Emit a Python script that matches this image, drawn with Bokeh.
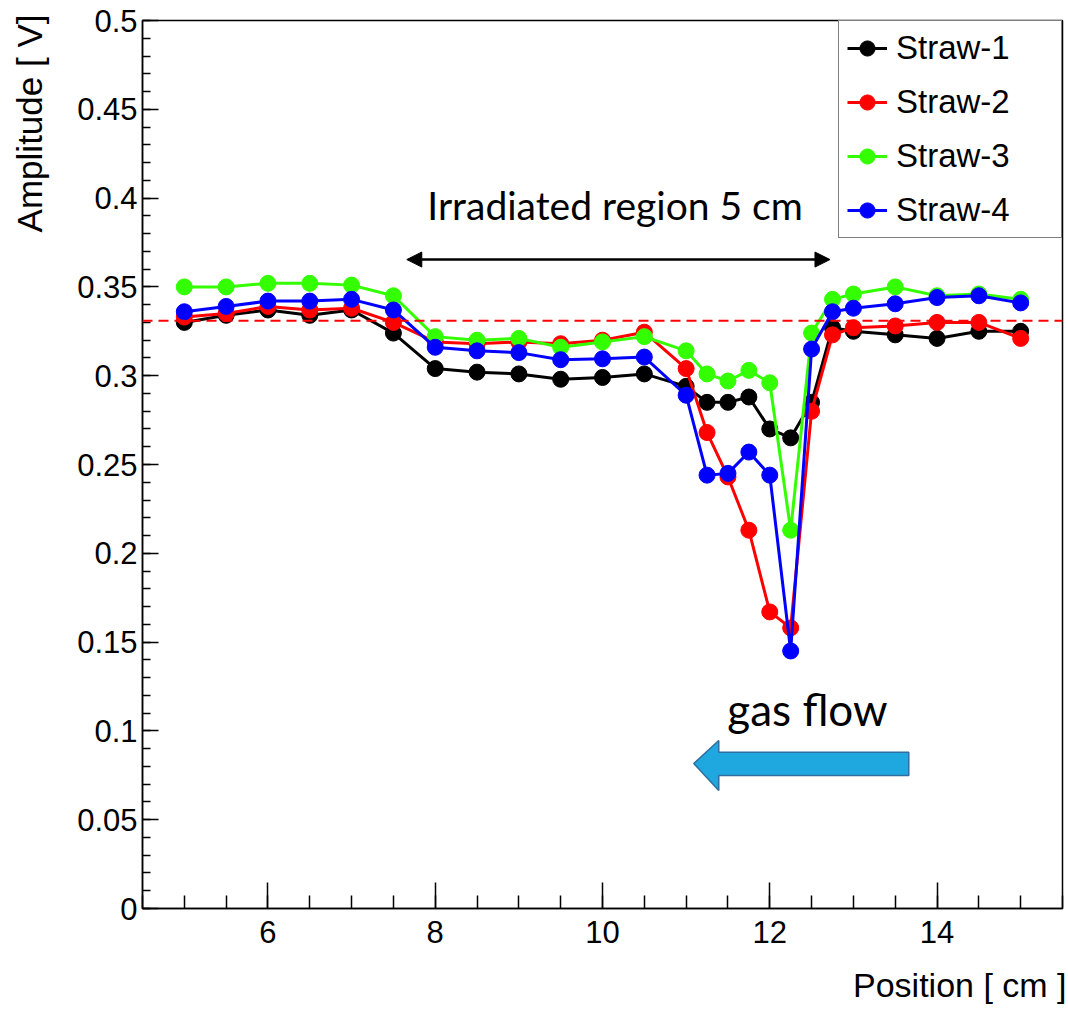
from bokeh.plotting import figure
from bokeh.models import (SingleIntervalTicker, CustomJSTickFormatter, Span, Label, Arrow,
                          NormalHead, Legend, LegendItem, ColumnDataSource, Title)
from bokeh.embed import file_html
from bokeh.resources import INLINE

# ---- data ----
positions = [5, 5.5, 6, 6.5, 7, 7.5, 8, 8.5, 9, 9.5, 10, 10.5, 11, 11.25, 11.5, 11.75,
             12, 12.25, 12.5, 12.75, 13, 13.5, 14, 14.5, 15]
straw1 = [0.330, 0.334, 0.337, 0.334, 0.337, 0.324, 0.304, 0.302, 0.301, 0.298, 0.299, 0.301,
          0.294, 0.285, 0.285, 0.288, 0.270, 0.265, 0.285, 0.327, 0.325, 0.323, 0.321, 0.325, 0.325]
straw2 = [0.333, 0.335, 0.339, 0.337, 0.338, 0.330, 0.319, 0.318, 0.319, 0.318, 0.320, 0.3245,
          0.304, 0.268, 0.243, 0.213, 0.167, 0.158, 0.280, 0.323, 0.327, 0.328, 0.330, 0.330, 0.321]
straw3 = [0.350, 0.350, 0.352, 0.352, 0.351, 0.345, 0.322, 0.320, 0.321, 0.316, 0.319, 0.322,
          0.314, 0.301, 0.297, 0.303, 0.296, 0.213, 0.324, 0.343, 0.346, 0.350, 0.345, 0.346, 0.343]
straw4 = [0.336, 0.339, 0.342, 0.342, 0.343, 0.337, 0.316, 0.314, 0.313, 0.309, 0.3095, 0.3105,
          0.289, 0.244, 0.245, 0.257, 0.244, 0.145, 0.315, 0.336, 0.338, 0.3405, 0.344, 0.345, 0.341]
series_names = ["Straw-1", "Straw-2", "Straw-3", "Straw-4"]
series_values = [straw1, straw2, straw3, straw4]
series_colors = ["#000000", "#ff0000", "#33ff00", "#0000ff"]
reference_level = 0.331

# annotation geometry (data coordinates)
irr_start, irr_end, irr_y = 7.66, 12.72, 0.3654
irr_text_x, irr_text_y = 10.15, 0.396
gas_text_x, gas_text_y = 12.45, 0.1125
gas_arrow_x = [13.662, 11.39, 11.39, 11.091, 11.39, 11.39, 13.662]
gas_arrow_y = [0.0880, 0.0880, 0.0946, 0.0816, 0.0664, 0.0749, 0.0749]

FONT = "Liberation Sans"

p = figure(width=1068, height=1014, x_range=(4.5, 15.5), y_range=(0, 0.5),
           output_backend="svg", toolbar_location=None,
           min_border_left=142, min_border_right=6, min_border_top=20, min_border_bottom=106,
           background_fill_color="white", border_fill_color="white")
p.xgrid.visible = False
p.ygrid.visible = False
p.outline_line_color = "black"
p.outline_line_width = 1.5

# axes
p.xaxis.ticker = SingleIntervalTicker(interval=2, num_minor_ticks=4)
p.yaxis.ticker = SingleIntervalTicker(interval=0.05, num_minor_ticks=5)
p.yaxis.formatter = CustomJSTickFormatter(code="return String(Math.round(tick*100)/100);")
for ax in (p.xaxis[0], p.yaxis[0]):
    ax.major_tick_out = 0
    ax.minor_tick_out = 0
    ax.axis_line_color = "black"
    ax.axis_line_width = 1.5
    ax.major_tick_line_color = "black"
    ax.minor_tick_line_color = "black"
    ax.major_tick_line_width = 1.5
    ax.minor_tick_line_width = 1.5
    ax.major_label_text_font = FONT
    ax.major_label_text_color = "black"
p.xaxis.major_label_text_font_size = "31px"
p.yaxis.major_label_text_font_size = "31px"
p.xaxis.major_tick_in = 26
p.xaxis.minor_tick_in = 13
p.xaxis.major_label_standoff = 12
p.yaxis.major_tick_in = 16
p.yaxis.minor_tick_in = 8
p.yaxis.major_label_standoff = 5

# thin spacers between the tick labels and the axis titles
p.yaxis.axis_label = " "
p.yaxis.axis_label_text_font_size = "1px"
p.yaxis.axis_label_standoff = 20
p.xaxis.axis_label = " "
p.xaxis.axis_label_text_font_size = "1px"
p.xaxis.axis_label_standoff = 14

# axis titles, aligned to the axis ends as in ROOT
p.add_layout(Title(text="Amplitude [ V]", align="right", text_font=FONT, text_font_size="35px",
                   text_font_style="normal", text_color="black", standoff=4, offset=-6), "left")
p.add_layout(Title(text="Position [ cm ]", align="right", text_font=FONT, text_font_size="34px",
                   text_font_style="normal", text_color="black", standoff=0, offset=-4), "below")

# reference dashed line
p.add_layout(Span(location=reference_level, dimension="width", line_color="#ff0000",
                  line_dash="10 6", line_width=2))

# data series
items = []
for name, vals, col in zip(series_names, series_values, series_colors):
    src = ColumnDataSource(dict(x=positions, y=vals))
    ln = p.line("x", "y", source=src, line_color=col, line_width=3)
    sc = p.scatter("x", "y", source=src, marker="circle", size=16, fill_color=col, line_color=col)
    items.append(LegendItem(label=name, renderers=[ln, sc]))

legend = Legend(items=items, location="top_right", margin=0, padding=8,
                glyph_width=40, glyph_height=38, label_height=38, spacing=16,
                label_standoff=9, label_width=157,
                label_text_font=FONT, label_text_font_size="33px", label_text_color="black",
                border_line_color="black", border_line_width=1.5,
                background_fill_color="white", background_fill_alpha=1.0)
p.add_layout(legend)

# irradiated region annotation
p.add_layout(Arrow(start=NormalHead(size=15, fill_color="black", line_color="black"),
                   end=NormalHead(size=15, fill_color="black", line_color="black"),
                   x_start=irr_start, x_end=irr_end, y_start=irr_y, y_end=irr_y,
                   line_color="black", line_width=2.5))
p.add_layout(Label(x=irr_text_x, y=irr_text_y, text="Irradiated region 5 cm",
                   text_align="center", text_baseline="alphabetic",
                   text_font="Lato", text_font_size="39px", text_color="black"))

# gas flow annotation
p.patch(gas_arrow_x, gas_arrow_y, fill_color="#1fa8e0", line_color="#2f6f9f", line_width=1.5)
p.add_layout(Label(x=gas_text_x, y=gas_text_y, text="gas flow",
                   text_align="center", text_baseline="alphabetic",
                   text_font="Lato", text_font_size="44px", text_color="black"))

open("out.html", "w").write(file_html(p, INLINE))
